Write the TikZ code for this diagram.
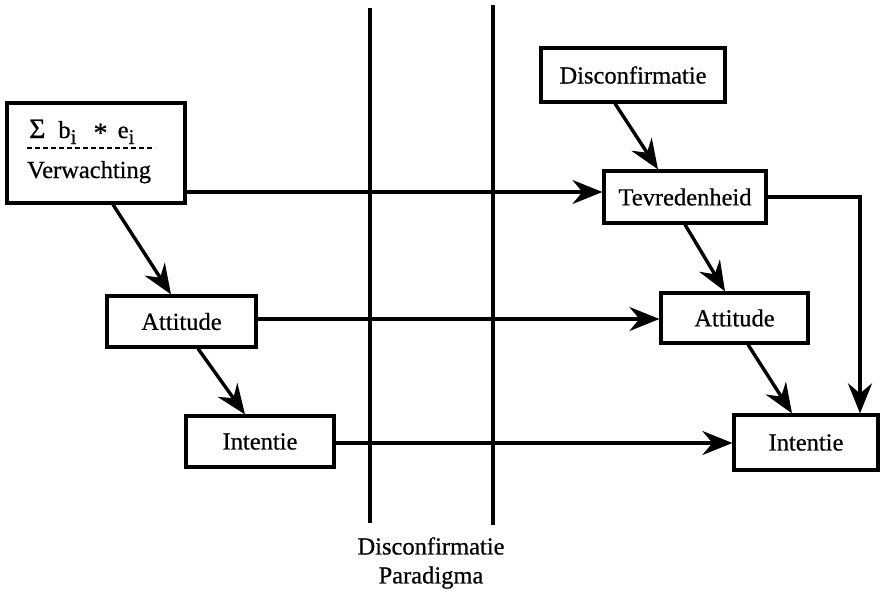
\documentclass[tikz,border=0pt]{standalone}
\usepackage{fontspec}
\setmainfont[FakeBold=0.6]{Liberation Serif}
\usetikzlibrary{arrows.meta}
\newcommand{\lowsub}[1]{\raisebox{-6pt}{\fontsize{21}{21}\selectfont #1}}
\begin{document}
\begin{tikzpicture}[x=1pt,y=-1pt,
  box/.style={draw, line width=3.2pt, inner sep=0pt, font=\fontsize{24.5}{29}\selectfont},
  lbl/.style={inner sep=0pt, font=\fontsize{24.5}{29}\selectfont},
  arr/.style={line width=3.4pt, -{Stealth[length=30pt,width=24pt,inset=10pt]}},
  ln/.style={line width=3.6pt},
  dsh/.style={line width=1.8pt, dash pattern=on 5pt off 3pt},
]
\useasboundingbox (0,0) rectangle (882,591);
\fill[white] (0,0) rectangle (882,591);

% vertical paradigm lines
\coordinate (v1t) at (370,8);
\coordinate (v1b) at (370,523);
\coordinate (v2t) at (493,5);
\coordinate (v2b) at (493,525);
\draw[ln] (v1t) -- (v1b);
\draw[ln] (v2t) -- (v2b);

% boxes
\node[box, minimum width=178pt, minimum height=100pt] (sigma) at (96,153) {};
\node[lbl, anchor=base west] (sigtxt) at (29,138) {{\fontsize{28}{28}\selectfont Σ}\; b\lowsub{i}\;\, \raisebox{-4pt}{\fontsize{28}{28}\selectfont *}\, e\lowsub{i}};
\node[lbl, anchor=base west] (verw) at (27,178) {Verwachting};
\coordinate (d1) at (27,148);
\coordinate (d2) at (155,148);
\draw[dsh] (d1) -- (d2);

\node[box, minimum width=184pt, minimum height=54pt] (disc) at (633,75) {Disconfirmatie};
\node[box, minimum width=162pt, minimum height=52pt] (tevr) at (685,197) {Tevredenheid};
\node[box, minimum width=147pt, minimum height=50pt] (attR) at (734.5,318) {Attitude};
\node[box, minimum width=144pt, minimum height=55pt] (intR) at (806,442.5) {Intentie};
\node[box, minimum width=149pt, minimum height=51pt] (attL) at (181.5,321.5) {Attitude};
\node[box, minimum width=148pt, minimum height=51pt] (intL) at (260,441.5) {Intentie};

\node[lbl, align=center] (para) at (431,563) {Disconfirmatie\\Paradigma};

% horizontal connectors
\coordinate (y1) at (0,192);
\coordinate (y2) at (0,319);
\coordinate (y3) at (0,443);
\draw[arr] (sigma.east |- y1) -- (tevr.west |- y1);
\draw[arr] (attL.east |- y2) -- (attR.west |- y2);
\draw[arr] (intL.east |- y3) -- (intR.west |- y3);
\draw[arr] (tevr.east) -| ([xshift=54pt]intR.north);

% diagonal connectors
\draw[arr] ([xshift=-18pt]disc.south) -- ([xshift=-27pt]tevr.north);
\draw[arr] (tevr.south) -- ([xshift=-9.5pt]attR.north);
\draw[arr] ([xshift=13.5pt]attR.south) -- ([xshift=-14pt]intR.north);
\draw[arr] ([xshift=17pt]sigma.south) -- ([xshift=-10.5pt]attL.north);
\draw[arr] ([xshift=16.5pt]attL.south) -- ([xshift=-15pt]intL.north);
\end{tikzpicture}
\end{document}
